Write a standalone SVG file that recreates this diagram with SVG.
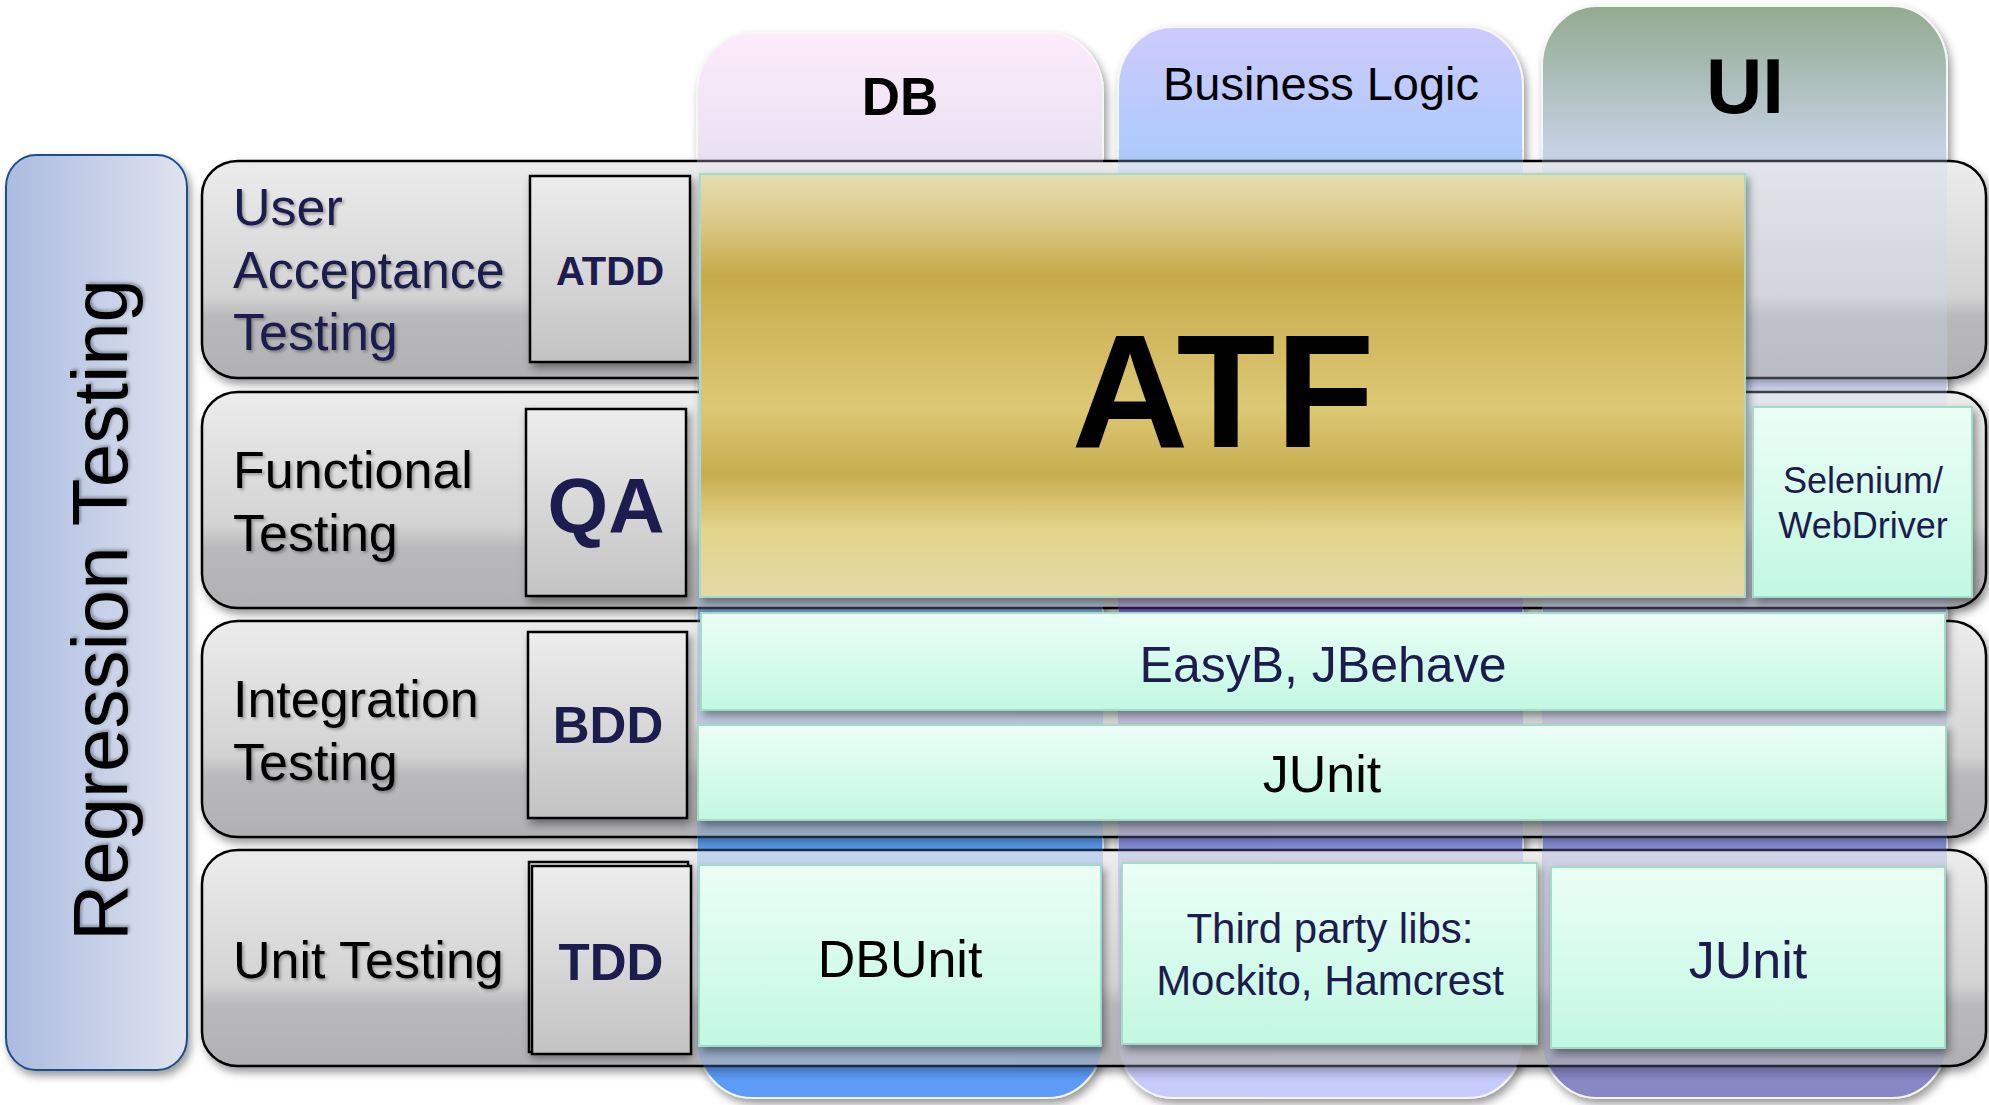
<svg xmlns="http://www.w3.org/2000/svg" width="1989" height="1105" viewBox="0 0 1989 1105">
<defs>
  <linearGradient id="gDB" gradientUnits="userSpaceOnUse" x1="0" y1="0" x2="0" y2="1100">
    <stop offset="0.03" stop-color="#fdeafa"/>
    <stop offset="0.14" stop-color="#e9e2f4"/>
    <stop offset="0.45" stop-color="#a9c2ee"/>
    <stop offset="0.76" stop-color="#5a9cf0"/>
    <stop offset="1" stop-color="#5c9cf8"/>
  </linearGradient>
  <linearGradient id="gBL" gradientUnits="userSpaceOnUse" x1="0" y1="0" x2="0" y2="1100">
    <stop offset="0.03" stop-color="#cccafc"/>
    <stop offset="0.14" stop-color="#adcafc"/>
    <stop offset="0.35" stop-color="#b4bef2"/>
    <stop offset="0.55" stop-color="#8a6ae0"/>
    <stop offset="0.76" stop-color="#8890e4"/>
    <stop offset="0.91" stop-color="#c5c9fa"/>
    <stop offset="1" stop-color="#c8ccfb"/>
  </linearGradient>
  <linearGradient id="gUI" gradientUnits="userSpaceOnUse" x1="0" y1="0" x2="0" y2="1100">
    <stop offset="0.01" stop-color="#95ab92"/>
    <stop offset="0.14" stop-color="#c6d3e6"/>
    <stop offset="0.35" stop-color="#d2d9f2"/>
    <stop offset="0.76" stop-color="#8a92dc"/>
    <stop offset="1" stop-color="#8787c4"/>
  </linearGradient>
  <linearGradient id="gRow" x1="0" y1="0" x2="0" y2="1">
    <stop offset="0" stop-color="#ececec"/>
    <stop offset="0.62" stop-color="#d3d3d3"/>
    <stop offset="0.72" stop-color="#b9b9bb"/>
    <stop offset="1" stop-color="#b1b1b3"/>
  </linearGradient>
  <linearGradient id="gRole" x1="0" y1="0" x2="0" y2="1">
    <stop offset="0" stop-color="#ededed"/>
    <stop offset="1" stop-color="#c3c3c3"/>
  </linearGradient>
  <linearGradient id="gReg" x1="0" y1="0" x2="1" y2="0">
    <stop offset="0" stop-color="#abbbe0"/>
    <stop offset="1" stop-color="#dfe3ee"/>
  </linearGradient>
  <linearGradient id="gMint" x1="0" y1="0" x2="0" y2="1">
    <stop offset="0" stop-color="#ebfef6"/>
    <stop offset="1" stop-color="#c2f8e2"/>
  </linearGradient>
  <linearGradient id="gATF" x1="0" y1="0" x2="0" y2="1">
    <stop offset="0" stop-color="#e5ddb0"/>
    <stop offset="0.1" stop-color="#dccb8c"/>
    <stop offset="0.24" stop-color="#c6aa4a"/>
    <stop offset="0.36" stop-color="#d0b65c"/>
    <stop offset="0.55" stop-color="#dcc874"/>
    <stop offset="0.71" stop-color="#c8ad50"/>
    <stop offset="0.84" stop-color="#e3d48a"/>
    <stop offset="1" stop-color="#e4d9a8"/>
  </linearGradient>
  <clipPath id="rowsClip">
    <rect x="0" y="150" width="1989" height="925"/>
  </clipPath>
  <filter id="sh" x="-10%" y="-10%" width="120%" height="130%">
    <feDropShadow dx="3" dy="5" stdDeviation="4" flood-color="#000" flood-opacity="0.4"/>
  </filter>
  <filter id="tsh" x="-5%" y="-10%" width="110%" height="130%">
    <feDropShadow dx="2" dy="2" stdDeviation="1.5" flood-color="#000" flood-opacity="0.3"/>
  </filter>
  <style>
    text { font-family: "Liberation Sans", Arial, sans-serif; }
    .col { stroke: #f6f6f6; stroke-width: 2; filter: url(#sh); }
    .row { fill: url(#gRow); stroke: #000; stroke-width: 2.5; filter: url(#sh); }
    .role { fill: url(#gRole); stroke: #000; stroke-width: 2.5; filter: url(#sh); }
    .mint { fill: url(#gMint); stroke: #a3dcc6; stroke-width: 2; filter: url(#sh); }
    .lbl { font-size: 52px; fill: #000; filter: url(#tsh); }
    .navy { fill: #1c1c4e; }
    .roleT { font-weight: bold; fill: #1c1c4e; text-anchor: middle; }
    .tool { text-anchor: middle; }
  </style>
</defs>
<rect width="1989" height="1105" fill="#ffffff"/>

<g id="col-db">
  <rect class="col" x="697" y="33" width="406" height="1065" rx="55" ry="60" fill="url(#gDB)"/>
  <text x="900" y="115" font-size="53" font-weight="bold" text-anchor="middle">DB</text>
</g>
<g id="col-bl">
  <rect class="col" x="1118" y="27" width="405" height="1071" rx="55" ry="60" fill="url(#gBL)"/>
  <text x="1321" y="100" font-size="47" text-anchor="middle">Business Logic</text>
</g>
<g id="col-ui">
  <rect class="col" x="1542" y="6" width="405" height="1092" rx="55" ry="60" fill="url(#gUI)"/>
  <text x="1745" y="113" font-size="78" font-weight="bold" text-anchor="middle">UI</text>
</g>

<g id="regression">
  <rect x="6" y="155" width="181" height="915" rx="30" ry="32" fill="url(#gReg)" stroke="#1e4f8a" stroke-width="2" filter="url(#sh)"/>
  <text transform="translate(127,610) rotate(-90)" font-size="78" text-anchor="middle" filter="url(#tsh)">Regression Testing</text>
</g>

<g id="row-uat">
  <rect class="row" x="202" y="161" width="1784" height="217" rx="36" ry="34"/>
</g>
<g id="row-func">
  <rect class="row" x="202" y="392" width="1784" height="216" rx="36" ry="34"/>
</g>
<g id="row-int">
  <rect class="row" x="202" y="621" width="1784" height="216" rx="36" ry="34"/>
</g>
<g id="row-unit">
  <rect class="row" x="202" y="850" width="1784" height="216" rx="36" ry="34"/>
</g>

<g id="col-tint" opacity="0.28" clip-path="url(#rowsClip)">
  <rect x="697" y="33" width="406" height="1065" rx="55" ry="60" fill="url(#gDB)"/>
  <rect x="1118" y="27" width="405" height="1071" rx="55" ry="60" fill="url(#gBL)"/>
  <rect x="1542" y="6" width="405" height="1092" rx="55" ry="60" fill="url(#gUI)"/>
</g>

<g id="label-uat">
  <text class="lbl navy"><tspan x="233" y="225">User</tspan><tspan x="233" y="288">Acceptance</tspan><tspan x="233" y="350">Testing</tspan></text>
</g>
<g id="label-func">
  <text class="lbl"><tspan x="233" y="488">Functional</tspan><tspan x="233" y="551">Testing</tspan></text>
</g>
<g id="label-int">
  <text class="lbl"><tspan x="233" y="717">Integration</tspan><tspan x="233" y="780">Testing</tspan></text>
</g>
<g id="label-unit">
  <text class="lbl" x="233" y="978">Unit Testing</text>
</g>

<g id="role-atdd">
  <rect class="role" x="530" y="176" width="160" height="186"/>
  <text class="roleT" x="610" y="285" font-size="40">ATDD</text>
</g>
<g id="role-qa">
  <rect class="role" x="526" y="409" width="160" height="187"/>
  <text class="roleT" x="606" y="533" font-size="78">QA</text>
</g>
<g id="role-bdd">
  <rect class="role" x="528" y="632" width="159" height="186"/>
  <text class="roleT" x="608" y="743" font-size="51">BDD</text>
</g>
<g id="role-tdd">
  <rect class="role" x="529" y="862" width="159" height="190"/>
  <rect x="532" y="866" width="159" height="188" fill="url(#gRole)" stroke="#000" stroke-width="2.5"/>
  <text class="roleT" x="611" y="980" font-size="51">TDD</text>
</g>

<g id="atf">
  <rect x="700" y="174" width="1045" height="423" fill="url(#gATF)" stroke="#a3dcc6" stroke-width="2" filter="url(#sh)"/>
  <text x="1223" y="447" font-size="162" font-weight="bold" text-anchor="middle">ATF</text>
</g>

<g id="selenium">
  <rect class="mint" x="1753" y="407" width="219" height="190"/>
  <text class="tool navy" font-size="36"><tspan x="1863" y="493">Selenium/</tspan><tspan x="1863" y="538">WebDriver</tspan></text>
</g>

<g id="easyb">
  <rect class="mint" x="701" y="613" width="1244" height="97"/>
  <text class="tool navy" x="1323" y="682" font-size="50">EasyB, JBehave</text>
</g>

<g id="junit-int">
  <rect class="mint" x="698" y="725" width="1248" height="95"/>
  <text class="tool" x="1322" y="792" font-size="52">JUnit</text>
</g>

<g id="dbunit">
  <rect class="mint" x="699" y="865" width="402" height="181"/>
  <text class="tool" x="900" y="977" font-size="52">DBUnit</text>
</g>

<g id="thirdparty">
  <rect class="mint" x="1122" y="863" width="415" height="181"/>
  <text class="tool navy" font-size="42"><tspan x="1330" y="943">Third party libs:</tspan><tspan x="1330" y="995">Mockito, Hamcrest</tspan></text>
</g>

<g id="junit-ui">
  <rect class="mint" x="1551" y="867" width="394" height="181"/>
  <text class="tool navy" x="1748" y="978" font-size="52">JUnit</text>
</g>

<g id="connectors"/>
</svg>
